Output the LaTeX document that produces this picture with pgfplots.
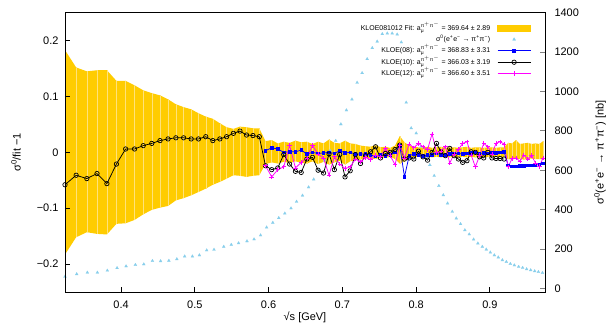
\documentclass[border=0pt]{standalone}
\usepackage{fontspec}
\setmainfont{Liberation Sans}
\usepackage{amsmath}
\usepackage{pgfplots}
\pgfplotsset{compat=1.18}
\usepackage{pgfplotstable}
\usepgfplotslibrary{fillbetween}

\definecolor{bandY}{HTML}{FFCC00}
\definecolor{bandL}{HTML}{FFE27A}
\definecolor{sky}{HTML}{87CEEB}
\definecolor{kb}{HTML}{0000FF}
\definecolor{km}{HTML}{FF00FF}

\pgfplotstableread{
x lo hi
0.3240 -0.183 0.183
0.3391 -0.152 0.152
0.3536 -0.143 0.145
0.3674 -0.146 0.147
0.3808 -0.147 0.147
0.3937 -0.128 0.128
0.4062 -0.127 0.128
0.4183 -0.121 0.120
0.4301 -0.111 0.111
0.4416 -0.103 0.106
0.4528 -0.099 0.102
0.4637 -0.096 0.095
0.4743 -0.086 0.086
0.4848 -0.082 0.081
0.4950 -0.077 0.077
0.5050 -0.071 0.070
0.5148 -0.065 0.064
0.5244 -0.058 0.060
0.5339 -0.053 0.052
0.5431 -0.047 0.045
0.5523 -0.041 0.042
0.5612 -0.042 0.046
0.5701 -0.044 0.045
0.5788 -0.042 0.043
0.5874 -0.041 0.043
0.5958 -0.021 0.020
0.6042 -0.018 0.022
0.6124 -0.020 0.016
0.6205 -0.017 0.019
0.6285 -0.019 0.017
0.6364 -0.016 0.021
0.6442 -0.019 0.018
0.6519 -0.020 0.019
0.6595 -0.016 0.015
0.6671 -0.021 0.019
0.6745 -0.017 0.016
0.6819 -0.022 0.023
0.6892 -0.018 0.017
0.6964 -0.015 0.016
0.7036 -0.022 0.021
0.7106 -0.016 0.016
0.7176 -0.014 0.015
0.7246 -0.013 0.012
0.7314 -0.010 0.011
0.7382 -0.011 0.010
0.7450 -0.012 0.013
0.7517 -0.009 0.009
0.7583 -0.010 0.010
0.7649 -0.008 0.008
0.7714 -0.012 0.012
0.7778 -0.020 0.029
0.7842 -0.016 0.018
0.7906 -0.010 0.012
0.7969 -0.009 0.010
0.8031 -0.008 0.009
0.8093 -0.009 0.009
0.8155 -0.008 0.010
0.8216 -0.009 0.008
0.8276 -0.008 0.009
0.8337 -0.009 0.010
0.8396 -0.008 0.008
0.8456 -0.009 0.009
0.8515 -0.008 0.009
0.8573 -0.009 0.008
0.8631 -0.008 0.009
0.8689 -0.009 0.010
0.8746 -0.008 0.008
0.8803 -0.009 0.009
0.8860 -0.008 0.009
0.8916 -0.009 0.008
0.8972 -0.008 0.009
0.9028 -0.009 0.009
0.9083 -0.008 0.008
0.9138 -0.009 0.009
0.9192 -0.008 0.009
0.9247 -0.012 0.017
0.9301 -0.013 0.016
0.9354 -0.011 0.022
0.9407 -0.012 0.015
0.9460 -0.013 0.016
0.9513 -0.012 0.017
0.9566 -0.011 0.015
0.9618 -0.012 0.016
0.9670 -0.012 0.015
0.9721 -0.013 0.020
}\band

\pgfplotstableread{
x y
0.3240 60
0.3399 73
0.3543 81
0.3679 81
0.3814 91
0.3946 104
0.4068 113
0.4194 120
0.4308 123
0.4425 140
0.4536 139
0.4648 141
0.4756 149
0.4862 163
0.4967 163
0.5062 169
0.5161 194
0.5260 197
0.5392 212
0.5494 222
0.5593 230
0.5707 240
0.5803 250
0.5891 270
0.5973 310
0.6057 334
0.6138 358
0.6220 381
0.6304 407
0.6379 441
0.6460 472
0.6542 514
0.6611 554
0.6686 600
0.6760 650
0.6835 700
0.6910 750
0.6980 834
0.7055 905
0.7130 960
0.7200 1045
0.7268 1094
0.7336 1165
0.7405 1221
0.7472 1254
0.7541 1292
0.7609 1295
0.7675 1295
0.7743 1290
0.7799 1250
0.7865 944
0.7933 814
0.8001 788
0.8066 720
0.8127 670
0.8186 627
0.8245 572
0.8308 521
0.8368 474
0.8426 432
0.8490 390
0.8544 356
0.8602 327
0.8661 296
0.8720 275
0.8779 249
0.8837 229
0.8897 212
0.8951 198
0.9006 183
0.9060 169
0.9114 158
0.9169 144
0.9223 135
0.9277 125
0.9331 118
0.9390 110
0.9444 105
0.9498 98
0.9553 93
0.9607 88
0.9657 84
0.9712 79
}\sigzero

\pgfplotstableread{
x y
0.3240 -0.058
0.3391 -0.041
0.3536 -0.047
0.3674 -0.038
0.3808 -0.056
0.3937 -0.021
0.4062 0.006
0.4183 0.006
0.4301 0.012
0.4416 0.016
0.4528 0.021
0.4637 0.024
0.4743 0.026
0.4848 0.026
0.4950 0.024
0.5050 0.024
0.5148 0.028
0.5244 0.021
0.5339 0.024
0.5431 0.028
0.5523 0.034
0.5612 0.038
0.5701 0.031
0.5788 0.030
0.5874 0.028
0.5958 -0.024
0.6042 -0.031
0.6124 -0.028
0.6205 -0.004
0.6285 -0.021
0.6364 -0.034
0.6442 -0.036
0.6519 -0.012
0.6595 -0.009
0.6671 -0.032
0.6745 -0.037
0.6819 -0.003
0.6892 -0.031
0.6964 -0.004
0.7036 -0.044
0.7106 -0.033
0.7176 -0.004
0.7246 -0.020
0.7314 -0.006
0.7382 0.001
0.7450 0.010
0.7517 -0.010
0.7583 -0.002
0.7649 0.000
0.7714 0.005
0.7778 0.013
0.7842 -0.012
0.7906 -0.010
0.7969 -0.012
0.8031 0.002
0.8093 -0.008
0.8155 -0.014
0.8216 0.000
0.8276 0.016
0.8337 0.001
0.8396 -0.006
0.8456 0.007
0.8515 -0.006
0.8573 -0.012
0.8631 -0.018
0.8689 -0.015
0.8746 0.001
0.8803 0.000
0.8860 -0.008
0.8916 -0.010
0.8972 0.000
0.9028 -0.010
0.9083 -0.011
0.9138 -0.011
0.9192 -0.012
}\kten

\pgfplotstableread{
x y
0.5958 0.003
0.6042 0.008
0.6124 0.006
0.6205 0.000
0.6285 0.001
0.6364 0.001
0.6442 0.004
0.6519 -0.003
0.6595 0.000
0.6671 -0.002
0.6745 -0.001
0.6819 0.000
0.6892 -0.002
0.6964 0.003
0.7036 -0.001
0.7106 0.000
0.7176 -0.003
0.7246 -0.003
0.7314 -0.003
0.7382 -0.005
0.7450 -0.007
0.7517 -0.004
0.7583 -0.006
0.7649 -0.005
0.7714 0.000
0.7778 0.012
0.7842 -0.044
0.7906 -0.006
0.7969 -0.003
0.8031 -0.005
0.8093 -0.006
0.8155 -0.005
0.8216 -0.004
0.8276 -0.002
0.8337 -0.004
0.8396 -0.004
0.8456 -0.003
0.8515 -0.002
0.8573 -0.002
0.8631 -0.003
0.8689 -0.002
0.8746 -0.001
0.8803 0.000
0.8860 -0.002
0.8916 -0.001
0.8972 -0.002
0.9028 0.000
0.9083 -0.001
0.9138 0.000
0.9192 0.001
0.9247 -0.023
0.9301 -0.025
0.9354 -0.025
0.9407 -0.024
0.9460 -0.024
0.9513 -0.023
0.9566 -0.023
0.9618 -0.022
0.9670 -0.022
0.9721 -0.020
}\keight

\pgfplotstableread{
x y
0.5958 -0.024
0.6042 -0.044
0.6124 -0.031
0.6205 -0.026
0.6285 0.012
0.6364 -0.028
0.6442 -0.018
0.6519 -0.010
0.6595 0.012
0.6671 -0.003
0.6745 -0.010
0.6819 -0.041
0.6892 -0.008
0.6964 -0.021
0.7036 -0.029
0.7106 -0.026
0.7176 -0.012
0.7246 -0.017
0.7314 -0.009
0.7382 -0.013
0.7450 -0.005
0.7517 -0.008
0.7583 0.007
0.7649 -0.006
0.7714 -0.022
0.7778 0.012
0.7842 -0.010
0.7906 0.015
0.7969 0.008
0.8031 0.016
0.8093 0.010
0.8155 0.005
0.8216 0.033
0.8276 0.000
0.8337 0.002
0.8396 0.010
0.8456 -0.019
0.8515 -0.003
0.8573 0.005
0.8631 0.016
0.8689 0.019
0.8746 -0.005
0.8803 -0.026
0.8860 -0.006
0.8916 0.016
0.8972 0.010
0.9028 -0.003
0.9083 0.016
0.9138 0.019
0.9192 0.015
0.9247 -0.026
0.9301 -0.011
0.9354 -0.010
0.9407 -0.016
0.9460 -0.005
0.9513 -0.012
0.9566 -0.006
0.9618 -0.019
0.9670 -0.025
0.9721 -0.010
}\ktwelve

\pgfplotsset{
  common/.style={scale only axis, width=480bp, height=279.3bp,
    xmin=0.324, xmax=0.9747, clip=true,
    tick align=inside, major tick length=5bp,
    ticklabel style={font=\fontsize{11}{12}\selectfont},
    label style={font=\fontsize{11}{12}\selectfont}},
}

\begin{document}
\begin{tikzpicture}
% band layer
\begin{axis}[common, ymin=-0.25, ymax=0.25, hide axis]
\addplot[name path=U, draw=none, forget plot] table[x=x,y=hi]{\band};
\addplot[name path=L, draw=none, forget plot] table[x=x,y=lo]{\band};
\addplot[bandY, forget plot] fill between[of=U and L];
\addplot[only marks, mark=*, mark size=0pt, mark options={draw=none, fill=none}, forget plot,
  error bars/.cd, y dir=minus, y explicit,
  error bar style={bandL, line width=0.4bp}, error mark=none]
  table[x=x, y=hi, y error minus expr=\thisrow{hi}-\thisrow{lo}]{\band};
\end{axis}
% right axis: cross section
\begin{axis}[common, ymin=-18, ymax=1400,
  axis y line*=right, axis x line=none,
  axis line style={line width=0.9bp},
  ytick={0,200,400,600,800,1000,1200,1400},
  yticklabels={0,200,400,600,800,1000,1200,1400},
  yticklabel style={xshift=6bp},
  ytick style={line width=0.9bp},
  ylabel={σ\textsuperscript{0}(e\textsuperscript{+}e\textsuperscript{−} → π\textsuperscript{+}π\textsuperscript{−}) [nb]},
  ylabel style={at={(axis description cs:1.1146,0.5)}, anchor=center}]
\addplot[only marks, mark=triangle*, mark size=1.7bp, sky, mark options={draw=sky, fill=sky, line width=0.2bp}] table[x=x,y=y]{\sigzero};
\end{axis}
% main axis
\begin{axis}[common, name=ax, ymin=-0.25, ymax=0.25,
  axis line style={line width=0.9bp},
  every tick/.style={line width=0.9bp, black},
  xtick pos=bottom, ytick pos=left,
  xtick={0.4,0.5,0.6,0.7,0.8,0.9},
  xticklabels={0.4,0.5,0.6,0.7,0.8,0.9},
  xticklabel style={yshift=-5bp},
  ytick={-0.2,-0.1,0,0.1,0.2},
  yticklabels={−0.2,−0.1,0,0.1,0.2},
  yticklabel style={xshift=-3bp},
  xlabel={√s [GeV]},
  xlabel style={at={(axis description cs:0.5,-0.0895)}, anchor=center},
  ylabel={σ\textsuperscript{0}/fit −1},
  ylabel style={at={(axis description cs:-0.102,0.5)}, anchor=center},
  legend cell align=right, legend plot pos=right,
  legend style={at={(axis description cs:0.9708,0.9594)}, anchor=north east,
    draw=none, fill=none, inner sep=0pt, outer sep=0pt,
    font=\fontsize{7}{8}\selectfont, row sep=3.4bp,
    nodes={inner sep=0pt, text height=6bp, text depth=2bp},
    /tikz/every odd column/.append style={column sep=7bp}},
]
\addlegendimage{legend image code/.code={\fill[bandY] (0bp,-3.3bp) rectangle (33bp,3.3bp);}}
\addlegendentry{KLOE081012 Fit: a$_{\text{μ}}^{\text{π}^{+}\text{π}^{-}}$ = 369.64 ± 2.89}
\addlegendimage{legend image code/.code={\path[draw=none, fill=none] (0bp,-3bp) rectangle (33bp,3bp); \path[draw=sky, fill=sky] plot[mark=triangle*, mark size=1.7bp] coordinates {(16.5bp,0bp)};}}
\addlegendentry{σ\textsuperscript{0}(e\textsuperscript{+}e\textsuperscript{−} → π\textsuperscript{+}π\textsuperscript{−})}

\addplot[kb, line width=0.75bp, mark=square*, mark size=1.3bp,
  legend image code/.code={\draw[kb, line width=0.75bp, mark repeat=2, mark phase=2] plot[mark=square*, mark size=1.3bp] coordinates {(0bp,0bp) (16.5bp,0bp) (33bp,0bp)};}]
  table[x=x,y=y]{\keight};
\addlegendentry{KLOE(08): a$_{\text{μ}}^{\text{π}^{+}\text{π}^{-}}$ = 368.83 ± 3.31}

\addplot[black, line width=0.75bp, mark=o, mark size=2.2bp, mark options={line width=0.7bp},
  legend image code/.code={\draw[black, line width=0.75bp, mark repeat=2, mark phase=2] plot[mark=o, mark size=2.2bp] coordinates {(0bp,0bp) (16.5bp,0bp) (33bp,0bp)};}]
  table[x=x,y=y]{\kten};
\addlegendentry{KLOE(10): a$_{\text{μ}}^{\text{π}^{+}\text{π}^{-}}$ = 366.03 ± 3.19}

\addplot[km, line width=0.75bp, mark=+, mark size=2.2bp,
  legend image code/.code={\draw[km, line width=0.75bp, mark repeat=2, mark phase=2] plot[mark=+, mark size=2.2bp] coordinates {(0bp,0bp) (16.5bp,0bp) (33bp,0bp)};}]
  table[x=x,y=y]{\ktwelve};
\addlegendentry{KLOE(12): a$_{\text{μ}}^{\text{π}^{+}\text{π}^{-}}$ = 366.60 ± 3.51}
\end{axis}
\pgfresetboundingbox
\path[use as bounding box] ([shift={(-65bp,-36bp)}]ax.south west) rectangle ([shift={(64bp,12.7bp)}]ax.north east);
\end{tikzpicture}
\end{document}
